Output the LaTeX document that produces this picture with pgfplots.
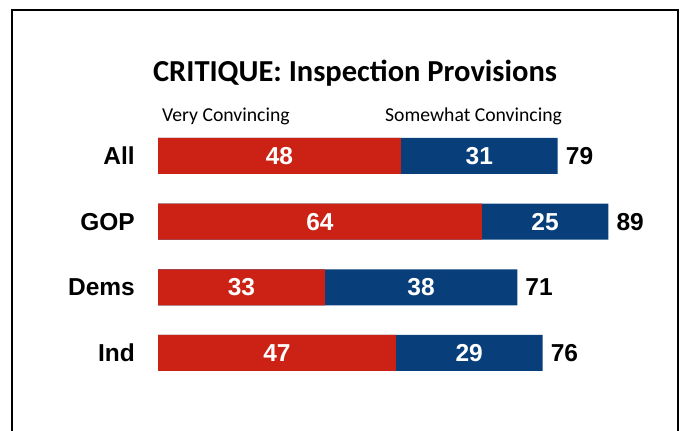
\documentclass[border=0pt]{standalone}
\usepackage{pgfplots}
\pgfplotsset{compat=1.18}
\usepackage{pgfplotstable}
\usepackage{fontspec}
\setmainfont{Carlito}
\newfontfamily\arialf{Liberation Sans}
\definecolor{cred}{HTML}{CC2216}
\definecolor{cblue}{HTML}{083E7A}
\pgfplotstableread{
y very some total
3 48 31 79
2 64 25 89
1 33 38 71
0 47 29 76
}\data
\newcommand{\numfont}{\arialf\bfseries\fontsize{24.5bp}{28bp}\selectfont}
\begin{document}
\begin{tikzpicture}
\path[use as bounding box] (0bp,0bp) rectangle (681bp,431bp);
\draw[line width=2.2bp] (12bp,-10bp) -- (12bp,421bp) -- (678bp,421bp) -- (678bp,-10bp);
\node[anchor=base, inner sep=0pt, font=\bfseries\fontsize{30.5bp}{34bp}\selectfont] at (355bp,349.3bp) {CRITIQUE: Inspection Provisions};
\node[anchor=base west, inner sep=0pt, font=\fontsize{19.7bp}{23bp}\selectfont] at (162bp,309bp) {Very Convincing};
\node[anchor=base west, inner sep=0pt, font=\fontsize{19.7bp}{23bp}\selectfont] at (385bp,309bp) {Somewhat Convincing};
\begin{axis}[
  at={(158bp,45.2bp)}, anchor=south west,
  scale only axis, width=506bp, height=262.7bp,
  xmin=0, xmax=100, ymin=-0.5, ymax=3.5,
  axis lines=left, axis line style={draw=none},
  xtick=\empty, ytick={0,1,2,3}, yticklabels={Ind,Dems,GOP,All},
  major tick length=0pt, tick style={draw=none},
  yticklabel style={font=\numfont, inner sep=0pt, xshift=-23bp},
  clip=false,
]
\addplot[xbar, bar width=36bp, bar shift=0pt, fill=cblue, draw=none,
  nodes near coords={\pgfplotspointmeta}, point meta=explicit symbolic,
  every node near coord/.style={anchor=west, text=black, font=\numfont, inner sep=0pt, xshift=8bp}]
  table[x=total, y=y, meta=total] {\data};
\addplot[xbar, bar width=36bp, bar shift=0pt, fill=cred, draw=none]
  table[x=very, y=y] {\data};
\addplot[draw=none, mark=none,
  nodes near coords={\pgfplotspointmeta}, point meta=explicit symbolic,
  every node near coord/.style={anchor=center, text=white, font=\numfont, inner sep=0pt}]
  table[x expr=\thisrow{very}/2, y=y, meta=very] {\data};
\addplot[draw=none, mark=none,
  nodes near coords={\pgfplotspointmeta}, point meta=explicit symbolic,
  every node near coord/.style={anchor=center, text=white, font=\numfont, inner sep=0pt}]
  table[x expr=\thisrow{very}+\thisrow{some}/2, y=y, meta=some] {\data};
\end{axis}
\end{tikzpicture}
\end{document}
